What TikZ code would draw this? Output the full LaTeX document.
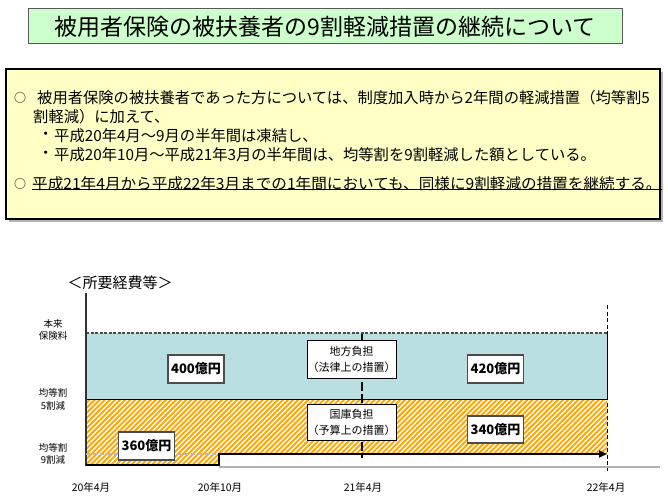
\documentclass[tikz,border=0pt]{standalone}
\usepackage{fontspec}
\setmainfont{Noto Sans CJK JP}
\usetikzlibrary{patterns.meta,arrows.meta}
\definecolor{titlegreen}{HTML}{CCFFCC}
\definecolor{boxyellow}{HTML}{FFFFC6}
\definecolor{barblue}{HTML}{BADFE3}
\definecolor{barorange}{HTML}{FFA600}
\tikzset{
  bodytext/.style={anchor=west,inner sep=0pt,font=\fontsize{15.3}{18}\selectfont},
  circmark/.style={anchor=west,inner sep=0pt,font=\fontsize{12}{14}\selectfont},
  numbox/.style={draw=gray!60!black,line width=1.2pt,fill=white,inner sep=0pt,
    minimum width=56pt,minimum height=28pt,font=\bfseries\fontsize{13}{13}\selectfont},
  labbox/.style={draw=black,line width=0.8pt,fill=white,inner sep=0pt,align=center,
    minimum width=89pt,font=\fontsize{11}{16}\selectfont},
  sidelab/.style={align=center,inner sep=0pt,font=\fontsize{9.5}{12.5}\selectfont},
  datelab/.style={inner sep=0pt,font=\fontsize{10.5}{12}\selectfont}
}
\begin{document}
\begin{tikzpicture}[x=1pt,y=-1pt]
\useasboundingbox[fill=white] (0,0) rectangle (668,497);
% title
\node[draw=gray!70!black,line width=1pt,fill=titlegreen,minimum width=594pt,minimum height=35pt,
  inner sep=0pt,font=\fontsize{23}{23}\selectfont] (title) at (325,26.5)
  {被用者保険の被扶養者の9割軽減措置の継続について};
% yellow box
\fill[gray!60] (9,72) rectangle (663,222);
\draw[fill=boxyellow,line width=2pt] (6,69) rectangle (660,219);
\node[circmark] (c1) at (14,98) {○};
\node[bodytext] (l1) at (37,98) {被用者保険の被扶養者であった方については、制度加入時から2年間の軽減措置（均等割5};
\node[bodytext] (l2) at (33,117) {割軽減）に加えて、};
\node[bodytext] (b3) at (38,136) {・};
\node[bodytext] (l3) at (54,136) {平成20年4月～9月の半年間は凍結し、};
\node[bodytext] (b4) at (38,155) {・};
\node[bodytext] (l4) at (54,155) {平成20年10月～平成21年3月の半年間は、均等割を9割軽減した額としている。};
\node[circmark] (c5) at (14,184) {○};
\node[bodytext,transform shape,xscale=1.02] (l5) at (32,184) {平成21年4月から平成22年3月までの1年間においても、同様に9割軽減の措置を継続する。};
\draw[line width=0.8pt] ([yshift=1.5pt]l5.south west) -- ([yshift=1.5pt]l5.south east);
% chart heading
\node[inner sep=0pt,font=\fontsize{15}{15}\selectfont] (head) at (120,283) {＜所要経費等＞};
% orange hatched region
\path[preaction={fill=barorange},pattern={Lines[angle=45,distance=3.6pt,line width=1.4pt]},pattern color=white]
  (86,399) -- (607,399) -- (607,454) -- (219,454) -- (219,465) -- (86,465) -- cycle;
% blue region
\fill[barblue] (86,333) rectangle (607,399);
\draw[line width=0.9pt] (86,399) -- (607,399) -- (607,333);
\draw[gray!60!black,line width=1.2pt,dash pattern=on 3pt off 1.5pt] (86,333) -- (607,333);
% vertical dashed lines
\draw[line width=2.2pt,dash pattern=on 9pt off 3pt] (362,334) -- (362,458);
\draw[line width=0.8pt,dash pattern=on 4pt off 2.5pt] (607,305) -- (607,471);
% axis and baseline
\draw[line width=1.3pt,gray!40!black] (86,293) -- (86,466);
\draw[gray!60,line width=2pt] (219,466.5) -- (660,466.5);
\draw[gray!55,line width=1.6pt,dash pattern=on 4pt off 3pt] (86,454) -- (219,454);
\draw[line width=2.5pt,line join=miter,-{Triangle[length=8pt,width=7pt]}]
  (86,465) -- (219,465) -- (219,454) -- (607,454);
% boxes
\node[numbox] (n400) at (196,369) {400億円};
\node[numbox] (n360) at (146.5,446) {360億円};
\node[numbox] (n420) at (495.5,369) {420億円};
\node[numbox,minimum height=27pt] (n340) at (495.5,429.5) {340億円};
\node[labbox,minimum height=38pt] (chiho) at (351.5,359) {地方負担\\（法律上の措置）};
\node[labbox,minimum height=36pt] (kokko) at (351.5,422) {国庫負担\\（予算上の措置）};
% side labels
\node[sidelab] (s1) at (53,330) {本来\\保険料};
\node[sidelab] (s2) at (53,399.5) {均等割\\5割減};
\node[sidelab] (s3) at (53,454) {均等割\\9割減};
% date labels
\node[datelab] (d1) at (91,487) {20年4月};
\node[datelab] (d2) at (220,487) {20年10月};
\node[datelab] (d3) at (363,487) {21年4月};
\node[datelab] (d4) at (606,487) {22年4月};
\end{tikzpicture}
\end{document}
